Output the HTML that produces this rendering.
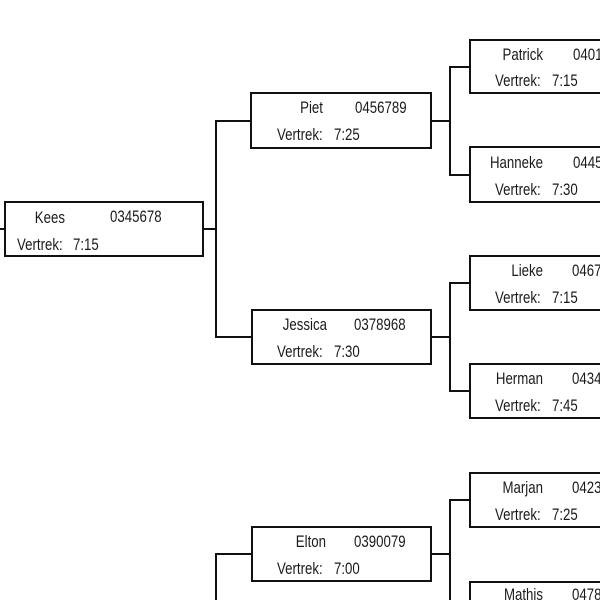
<!DOCTYPE html>
<html>
<head>
<meta charset="utf-8">
<style>
html,body{margin:0;padding:0;background:#fff;}
body{width:600px;height:600px;overflow:hidden;}
svg{display:block;}
text{font-family:"Liberation Sans",Arial,sans-serif;font-size:17px;fill:#1a1a1a;}
</style>
</head>
<body>
<svg width="600" height="600" viewBox="0 0 600 600" xmlns="http://www.w3.org/2000/svg">
<g fill="none" stroke="#111" stroke-width="2">
  <!-- connectors -->
  <line x1="0" y1="229" x2="5" y2="229"/>
  <line x1="203" y1="229" x2="216" y2="229"/>
  <line x1="216" y1="121" x2="216" y2="337"/>
  <line x1="215" y1="121" x2="251" y2="121"/>
  <line x1="215" y1="337" x2="252" y2="337"/>
  <line x1="216" y1="554" x2="216" y2="600"/>
  <line x1="215" y1="554" x2="252" y2="554"/>

  <line x1="431" y1="121" x2="450" y2="121"/>
  <line x1="450" y1="67" x2="450" y2="175"/>
  <line x1="449" y1="67" x2="469" y2="67"/>
  <line x1="449" y1="175" x2="469" y2="175"/>

  <line x1="431" y1="337" x2="450" y2="337"/>
  <line x1="450" y1="283" x2="450" y2="391"/>
  <line x1="449" y1="283" x2="469" y2="283"/>
  <line x1="449" y1="391" x2="469" y2="391"/>

  <line x1="431" y1="554" x2="450" y2="554"/>
  <line x1="450" y1="500" x2="450" y2="600"/>
  <line x1="449" y1="500" x2="469" y2="500"/>

  <!-- boxes -->
  <rect x="5" y="202" width="198" height="54"/>
  <rect x="251" y="93" width="180" height="55"/>
  <rect x="252" y="310" width="179" height="54"/>
  <rect x="252" y="527" width="179" height="54"/>
  <rect x="470" y="40" width="131" height="53"/>
  <rect x="470" y="147" width="131" height="55"/>
  <rect x="470" y="256" width="131" height="54"/>
  <rect x="470" y="364" width="131" height="54"/>
  <rect x="470" y="473" width="131" height="54"/>
  <polyline points="470,600 470,582 600,582"/>
</g>

<!-- Kees -->
<text text-anchor="end" transform="translate(65,223) scale(0.78,1)">Kees</text>
<text transform="translate(110,222) scale(0.78,1)">0345678</text>
<text transform="translate(17,250) scale(0.78,1)">Vertrek:</text>
<text transform="translate(73,250) scale(0.78,1)">7:15</text>

<!-- Piet -->
<text text-anchor="end" transform="translate(323,113) scale(0.78,1)">Piet</text>
<text transform="translate(355,113) scale(0.78,1)">0456789</text>
<text transform="translate(277,140) scale(0.78,1)">Vertrek:</text>
<text transform="translate(334,140) scale(0.78,1)">7:25</text>

<!-- Jessica -->
<text text-anchor="end" transform="translate(327,330) scale(0.78,1)">Jessica</text>
<text transform="translate(354,330) scale(0.78,1)">0378968</text>
<text transform="translate(277,357) scale(0.78,1)">Vertrek:</text>
<text transform="translate(334,357) scale(0.78,1)">7:30</text>

<!-- Elton -->
<text text-anchor="end" transform="translate(326,547) scale(0.78,1)">Elton</text>
<text transform="translate(354,547) scale(0.78,1)">0390079</text>
<text transform="translate(277,574) scale(0.78,1)">Vertrek:</text>
<text transform="translate(334,574) scale(0.78,1)">7:00</text>

<!-- Patrick -->
<text text-anchor="end" transform="translate(543,60) scale(0.78,1)">Patrick</text>
<text transform="translate(573,60) scale(0.78,1)">0401</text>
<text transform="translate(495,86) scale(0.78,1)">Vertrek:</text>
<text transform="translate(552,86) scale(0.78,1)">7:15</text>

<!-- Hanneke -->
<text text-anchor="end" transform="translate(543,168) scale(0.78,1)">Hanneke</text>
<text transform="translate(573,168) scale(0.78,1)">0445</text>
<text transform="translate(495,195) scale(0.78,1)">Vertrek:</text>
<text transform="translate(552,195) scale(0.78,1)">7:30</text>

<!-- Lieke -->
<text text-anchor="end" transform="translate(543,276) scale(0.78,1)">Lieke</text>
<text transform="translate(572,276) scale(0.78,1)">0467</text>
<text transform="translate(495,303) scale(0.78,1)">Vertrek:</text>
<text transform="translate(552,303) scale(0.78,1)">7:15</text>

<!-- Herman -->
<text text-anchor="end" transform="translate(543,384) scale(0.78,1)">Herman</text>
<text transform="translate(572,384) scale(0.78,1)">0434</text>
<text transform="translate(495,411) scale(0.78,1)">Vertrek:</text>
<text transform="translate(552,411) scale(0.78,1)">7:45</text>

<!-- Marjan -->
<text text-anchor="end" transform="translate(543,493) scale(0.78,1)">Marjan</text>
<text transform="translate(572,493) scale(0.78,1)">0423</text>
<text transform="translate(495,520) scale(0.78,1)">Vertrek:</text>
<text transform="translate(552,520) scale(0.78,1)">7:25</text>

<!-- Mathis -->
<text text-anchor="end" transform="translate(543,600) scale(0.78,1)">Mathis</text>
<text transform="translate(572,600) scale(0.78,1)">0478</text>
</svg>
</body>
</html>
